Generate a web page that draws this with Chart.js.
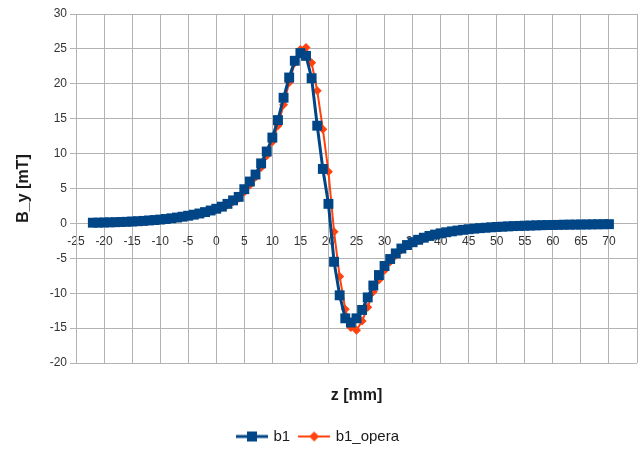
<!DOCTYPE html>
<html>
<head>
<meta charset="utf-8">
<title>B_y along z</title>
<script src="https://cdn.jsdelivr.net/npm/chart.js@4/dist/chart.umd.min.js"></script>
<style>
  html, body { margin: 0; padding: 0; background: #ffffff; }
  #c { display: block; }
</style>
</head>
<body>
<canvas id="c" width="644" height="451"></canvas>
<script>
// Longitudinal position of each sample, mm
const zPositions = [
  -22, -21, -20, -19, -18, -17, -16, -15, -14, -13, -12, -11, -10, -9, -8, -7, -6, -5, -4, -3, -2, -1,
  0, 1, 2, 3, 4, 5, 6, 7, 8, 9, 10, 11, 12, 13, 14, 15, 16, 17, 18, 19, 20, 21, 22, 23, 24, 25,
  26, 27, 28, 29, 30, 31, 32, 33, 34, 35, 36, 37, 38, 39, 40, 41, 42, 43, 44, 45, 46, 47, 48, 49,
  50, 51, 52, 53, 54, 55, 56, 57, 58, 59, 60, 61, 62, 63, 64, 65, 66, 67, 68, 69, 70
];

// Measured field component B_y, mT
const b1Values = [
  0.10, 0.11, 0.13, 0.15, 0.17, 0.20, 0.23, 0.27, 0.31, 0.36, 0.42, 0.48, 0.55, 0.63, 0.73, 0.84, 0.96, 1.10, 1.25, 1.42, 1.62, 1.85,
  2.10, 2.40, 2.80, 3.30, 3.80, 4.90, 6.00, 7.00, 8.60, 10.3, 12.3, 14.8, 18.0, 20.9, 23.3, 24.4, 24.0, 20.8, 14.0, 7.80, 2.80, -5.50, -10.3, -13.6, -14.2, -13.6,
  -12.4, -10.6, -8.90, -7.40, -6.10, -5.10, -4.30, -3.60, -3.10, -2.70, -2.35, -2.05, -1.80, -1.60, -1.42, -1.27, -1.14, -1.02, -0.92, -0.83, -0.75, -0.68, -0.62, -0.56,
  -0.51, -0.47, -0.43, -0.39, -0.36, -0.33, -0.31, -0.28, -0.26, -0.24, -0.22, -0.21, -0.19, -0.18, -0.17, -0.16, -0.15, -0.14, -0.13, -0.12, -0.11
];

// Simulated field component B_y (OPERA), mT
const b1OperaValues = [
  0.09, 0.10, 0.12, 0.14, 0.16, 0.19, 0.22, 0.25, 0.29, 0.34, 0.39, 0.45, 0.52, 0.60, 0.69, 0.79, 0.91, 1.04, 1.19, 1.36, 1.55, 1.76,
  2.00, 2.30, 2.65, 3.10, 3.60, 4.50, 5.50, 6.60, 8.00, 9.70, 11.7, 14.0, 17.0, 20.2, 23.0, 24.9, 25.2, 23.0, 19.0, 13.5, 7.40, -1.20, -7.60, -12.3, -14.9, -15.3,
  -14.0, -12.0, -9.80, -8.10, -6.70, -5.50, -4.60, -3.80, -3.25, -2.80, -2.45, -2.15, -1.88, -1.66, -1.48, -1.32, -1.18, -1.06, -0.95, -0.86, -0.78, -0.70, -0.64, -0.58,
  -0.53, -0.48, -0.44, -0.40, -0.37, -0.34, -0.31, -0.29, -0.27, -0.25, -0.23, -0.21, -0.20, -0.18, -0.17, -0.16, -0.15, -0.14, -0.13, -0.12, -0.11
];

// Axis ranges and tick spacing
const zRange = [-25, 75];
const zTickStep = 5;
const byRange = [-20, 30];
const byTickStep = 5;

const seriesNames = ['b1', 'b1_opera'];
const seriesColors = ['#004586', '#ff420e'];

const GRID = '#b3b3b3';
const TEXT = '#333333';
const FONT = "'Liberation Sans', Arial, sans-serif";

// Small legend glyph: a line segment with the series marker in its middle
function legendGlyph(color, lineWidth, marker) {
  const cv = document.createElement('canvas');
  cv.width = 32; cv.height = 12;
  const g = cv.getContext('2d');
  g.strokeStyle = color;
  g.fillStyle = color;
  g.lineWidth = lineWidth;
  g.beginPath();
  g.moveTo(0, 6); g.lineTo(32, 6);
  g.stroke();
  if (marker === 'square') {
    g.fillRect(11, 1, 10, 10);
  } else {
    g.beginPath();
    g.moveTo(16, 1); g.lineTo(21, 6); g.lineTo(16, 11); g.lineTo(11, 6);
    g.closePath();
    g.fill();
  }
  return cv;
}

const glyphs = [
  legendGlyph(seriesColors[0], 3, 'square'),
  legendGlyph(seriesColors[1], 2, 'diamond')
];

const toPoints = vals => zPositions.map((z, i) => ({ x: z, y: vals[i] }));

// Nudge the legend row a little lower, closer to the bottom edge
const legendNudge = {
  id: 'legendNudge',
  afterLayout(chart) {
    if (chart.legend) {
      chart.legend.top += 3;
      chart.legend.bottom += 3;
    }
  }
};

new Chart(document.getElementById('c'), {
  type: 'line',
  plugins: [legendNudge],
  data: {
    datasets: [
      {
        label: seriesNames[0],
        data: toPoints(b1Values),
        borderColor: seriesColors[0],
        backgroundColor: seriesColors[0],
        borderWidth: 3,
        pointStyle: 'rect',
        pointRadius: 7,
        pointBorderWidth: 0,
        tension: 0,
        order: 0
      },
      {
        label: seriesNames[1],
        data: toPoints(b1OperaValues),
        borderColor: seriesColors[1],
        backgroundColor: seriesColors[1],
        borderWidth: 2,
        pointStyle: 'rectRot',
        pointRadius: 4.5,
        pointBorderWidth: 0,
        tension: 0,
        order: 1
      }
    ]
  },
  options: {
    responsive: false,
    animation: false,
    events: [],
    layout: { padding: { top: 14, right: 7, bottom: 0, left: 0 } },
    scales: {
      x: {
        type: 'linear',
        position: 'bottom',
        min: zRange[0],
        max: zRange[1],
        ticks: { display: false, stepSize: zTickStep },
        grid: { color: GRID, lineWidth: 1, drawTicks: false },
        border: { display: false },
        title: {
          display: true,
          text: 'z [mm]',
          color: '#1a1a1a',
          font: { family: FONT, size: 16, weight: 'bold' },
          padding: { top: 0, bottom: 11 }
        },
        afterFit: s => { s.height = 53; }
      },
      xLabels: {
        type: 'linear',
        axis: 'x',
        position: { y: 0 },
        min: zRange[0],
        max: zRange[1],
        ticks: {
          stepSize: zTickStep,
          color: TEXT,
          padding: 3,
          maxRotation: 0,
          autoSkip: false,
          font: { family: FONT, size: 12 },
          callback: v => (v >= zRange[1] ? '' : v)
        },
        grid: { display: false },
        border: { display: false }
      },
      y: {
        type: 'linear',
        position: 'left',
        min: byRange[0],
        max: byRange[1],
        ticks: {
          stepSize: byTickStep,
          color: TEXT,
          padding: 3,
          font: { family: FONT, size: 12 }
        },
        grid: { color: GRID, lineWidth: 1, tickLength: 6 },
        border: { color: GRID },
        title: {
          display: true,
          text: 'B_y [mT]',
          color: '#1a1a1a',
          font: { family: FONT, size: 16, weight: 'bold' },
          padding: { top: 14, bottom: 0 }
        },
        afterFit: s => { s.width = 76; }
      }
    },
    plugins: {
      tooltip: { enabled: false },
      legend: {
        position: 'bottom',
        labels: {
          usePointStyle: true,
          pointStyleWidth: 28,
          padding: 10,
          color: '#1a1a1a',
          font: { family: FONT, size: 15 },
          generateLabels: chart => chart.data.datasets.map((ds, i) => ({
            text: ds.label,
            pointStyle: glyphs[i],
            fillStyle: ds.borderColor,
            strokeStyle: ds.borderColor,
            lineWidth: 0,
            fontColor: '#1a1a1a',
            hidden: false,
            datasetIndex: i
          }))
        }
      }
    }
  }
});
</script>
</body>
</html>
